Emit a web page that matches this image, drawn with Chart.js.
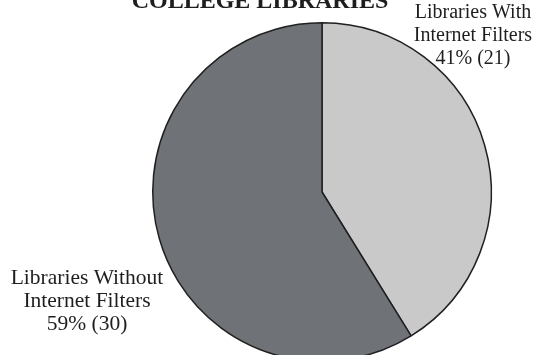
<!DOCTYPE html>
<html>
<head>
<meta charset="utf-8">
<script src="https://cdn.jsdelivr.net/npm/chart.js@4/dist/chart.umd.min.js"></script>
<style>
  html, body { margin: 0; padding: 0; background: #fff; overflow: hidden; }
  .box { position: relative; width: 541px; height: 380px; }
</style>
</head>
<body>
<div class="box"><canvas id="pieChart"></canvas></div>
<script>
// donnees du graphique
const titre = 'COLLEGE LIBRARIES';
const categories = ['Libraries With Internet Filters', 'Libraries Without Internet Filters'];
const nombres = [21, 30];
const pourcents = [41, 59];
const etiquettes = [
  ['Libraries With', 'Internet Filters', '41% (21)'],
  ['Libraries Without', 'Internet Filters', '59% (30)']
];
const couleurs = ['#c9c9c9', '#6f7378'];

// titre coupe en haut + etiquettes des parts
const textePlugin = {
  id: 'textePlugin',
  afterDraw(chart) {
    const ctx = chart.ctx;
    const arcs = chart.getDatasetMeta(0).data;
    const cx = arcs[0].x, cy = arcs[0].y, r = arcs[0].outerRadius;
    ctx.save();
    ctx.fillStyle = '#1e1e1e';
    ctx.textAlign = 'center';

    ctx.font = 'bold 24px "Liberation Serif"';
    ctx.textBaseline = 'alphabetic';
    ctx.fillText(titre, cx - 62, cy - r - 15);

    ctx.textBaseline = 'middle';
    // part claire : en haut a droite
    ctx.font = '20px "Liberation Serif"';
    etiquettes[0].forEach((l, i) => ctx.fillText(l, cx + 151, cy - r - 10 + i * 23));
    // part foncee : en bas a gauche
    ctx.font = '21.5px "Liberation Serif"';
    etiquettes[1].forEach((l, i) => ctx.fillText(l, cx - 235, cy + 86 + i * 23));
    ctx.restore();
  }
};

new Chart('pieChart', {
  type: 'pie',
  data: {
    labels: categories,
    datasets: [{
      data: nombres,
      backgroundColor: couleurs,
      borderColor: '#202020',
      borderWidth: 1.5
    }]
  },
  options: {
    responsive: true,
    maintainAspectRatio: false,
    animation: false,
    layout: { padding: { top: 22, bottom: 18, left: 152, right: 49 } },
    plugins: {
      legend: { display: false },
      tooltip: { enabled: false },
      title: { display: false }
    }
  },
  plugins: [textePlugin]
});
</script>
</body>
</html>
